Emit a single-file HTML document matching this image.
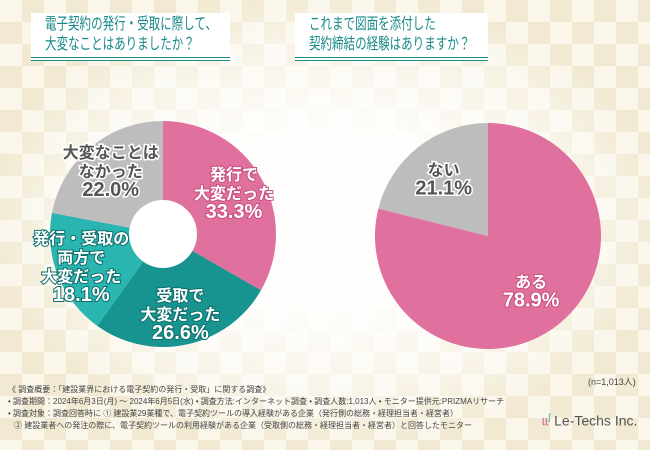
<!DOCTYPE html>
<html><head><meta charset="utf-8">
<style>
body{margin:0;}
#root{position:relative;width:650px;height:450px;overflow:hidden;font-family:"Liberation Sans","Noto Sans CJK JP",sans-serif;background:#f8f2e0;}
.chk{position:absolute;inset:0;background:
conic-gradient(#efe5c9 25%,#f9f4e6 0 50%,#efe5c9 0 75%,#f9f4e6 0) 0 0/44px 44px;}
.fade{position:absolute;inset:0;background:radial-gradient(ellipse 340px 230px at 325px 220px,rgba(255,255,255,0.92) 40%,rgba(255,255,255,0.5) 80%,rgba(255,255,255,0.15) 100%);}
.title{position:absolute;top:13px;height:48px;background:#fff;color:#1a8a8a;box-sizing:border-box;border-bottom:4px double #1a8a8a;overflow:hidden;}
.title div{position:absolute;left:14px;font-size:16px;line-height:20px;white-space:nowrap;transform:scaleX(0.72);transform-origin:0 0;}
.foot{position:absolute;left:8px;font-size:8px;color:#444;white-space:nowrap;}
</style></head><body>
<div id="root">
<div class="chk"></div>
<div class="fade"></div>
<div class="title" style="left:31px;width:199px;"><div style="top:2px">電子契約の発行・受取に際して、<br>大変なことはありましたか？</div></div>
<div class="title" style="left:295px;width:193px;"><div style="top:2px">これまで図面を添付した<br>契約締結の経験はありますか？</div></div>
<svg id="svg" width="650" height="450" style="position:absolute;left:0;top:0"></svg>
<div class="foot" style="top:375px;left:588px;font-size:9px">(n=1,013人)</div>
<div class="foot" style="top:384px">《 調査概要：「建設業界における電子契約の発行・受取」に関する調査》</div>
<div class="foot" style="top:396px">• 調査期間：2024年6月3日(月) ～ 2024年6月5日(水) • 調査方法:インターネット調査 • 調査人数:1,013人 • モニター提供元:PRIZMAリサーチ</div>
<div class="foot" style="top:408px">• 調査対象：調査回答時に ① 建設業29業種で、電子契約ツールの導入経験がある企業（発行側の総務・経理担当者・経営者）</div>
<div class="foot" style="top:420px;left:14px">② 建設業者への発注の際に、電子契約ツールの利用経験がある企業（受取側の総務・経理担当者・経営者）と回答したモニター</div>
<div style="position:absolute;left:542px;top:412px;font-size:14px;color:#555;white-space:nowrap"><span style="color:#d9709c">ɩɩ</span><sup style="color:#2aa6a6;font-size:9px">ʃ</sup> Le-Techs Inc.</div>
</div>
<script>
const leftLabels=[["発行で","大変だった"],["受取で","大変だった"],["発行・受取の","両方で","大変だった"],["大変なことは","なかった"]];
const leftValues=[33.3,26.6,18.1,22.0];
const leftColors=["#e0719f","#179490","#2bb5b0","#bdbdbd"];
const rightLabels=[["ある"],["ない"]];
const rightValues=[78.9,21.1];
const rightColors=["#e0719f","#bdbdbd"];
const NS="http://www.w3.org/2000/svg";
const svg=document.getElementById('svg');
function pt(cx,cy,r,a){return [cx+r*Math.sin(a),cy-r*Math.cos(a)];}
function pie(cx,cy,r,ri,vals,cols,labels,lr,name){
 const tot=vals.reduce((a,b)=>a+b,0);let a0=0;
 vals.forEach((v,i)=>{
  const a1=a0+v/tot*2*Math.PI;
  const p0=pt(cx,cy,r,a0),p1=pt(cx,cy,r,a1);const lg=(a1-a0)>Math.PI?1:0;
  const p=document.createElementNS(NS,'path');
  p.setAttribute('d',`M${cx},${cy}L${p0[0]},${p0[1]}A${r},${r} 0 ${lg} 1 ${p1[0]},${p1[1]}Z`);
  p.setAttribute('fill',cols[i]);
  
  
  svg.appendChild(p);
  const am=(a0+a1)/2;const c=pt(cx,cy,lr[i]||r*0.6,am);
  const gray=cols[i]==="#bdbdbd";
  const lines=labels[i].concat([v.toFixed(1)+'%']);
  const lh=19;const y0=c[1]-(lines.length-1)*lh/2;
  lines.forEach((t,j)=>{
   const tx=document.createElementNS(NS,'text');
   tx.setAttribute('x',c[0]);tx.setAttribute('y',y0+j*lh+6);
   tx.setAttribute('text-anchor','middle');
   const last=j===lines.length-1;
   tx.setAttribute('font-size',last?20:16);
   tx.setAttribute('font-weight','bold');
   tx.setAttribute('fill',gray?'#555':'#fff');
   tx.setAttribute('stroke',gray?'#fff':cols[i]==="#e0719f"?'#c9507f':'#0f6f6c');
   tx.setAttribute('stroke-width',gray?3:2);
   tx.setAttribute('paint-order','stroke');
   tx.textContent=t;
   
   
   svg.appendChild(tx);
  });
  a0=a1;
 });
 if(ri){const h=document.createElementNS(NS,'circle');h.setAttribute('cx',cx);h.setAttribute('cy',cy);h.setAttribute('r',ri);h.setAttribute('fill','#fff');
 
 
 svg.appendChild(h);}
}
pie(163,234,113,34,leftValues,leftColors,leftLabels,[82,82,88,82],'left-donut');
pie(488,236,113,0,rightValues,rightColors,rightLabels,[70,72],'right-pie');
</script>
</body></html>
